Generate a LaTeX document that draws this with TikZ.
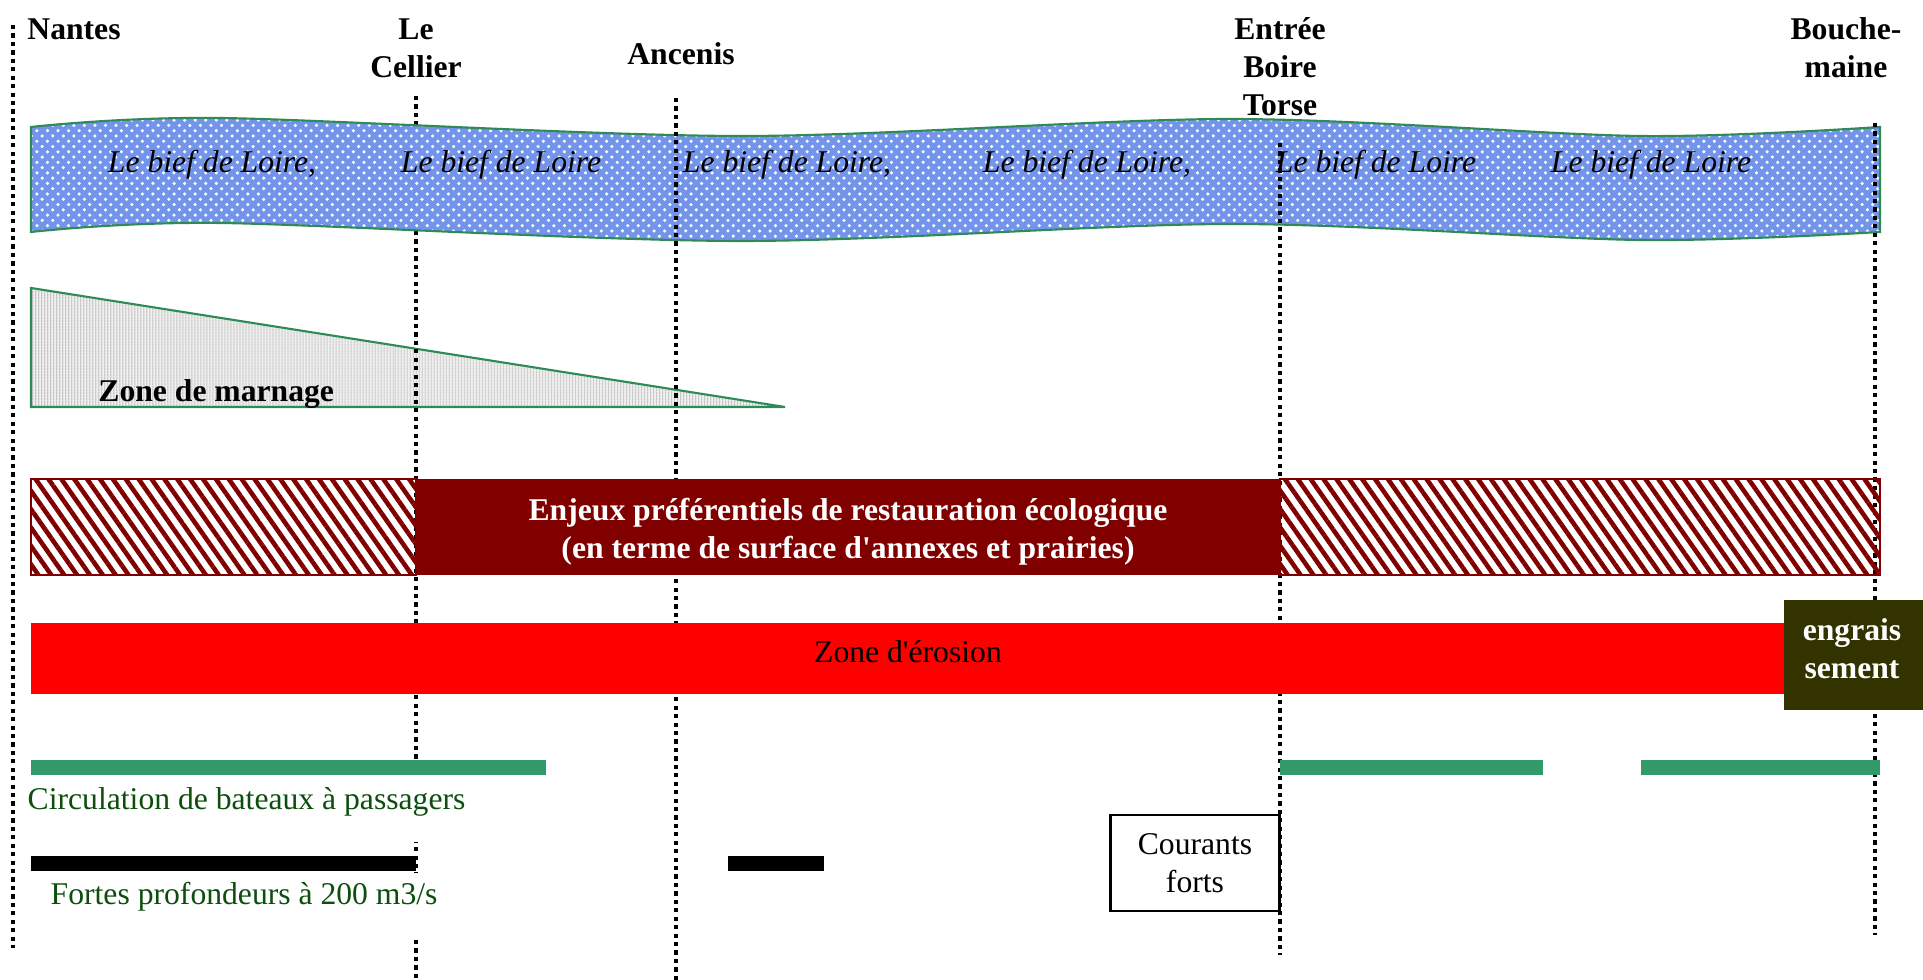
\documentclass[tikz,border=0pt]{standalone}
\usepackage{fontspec}
\setmainfont{Liberation Serif}[Ligatures=TeXOff]
\usetikzlibrary{patterns}
\usetikzlibrary{patterns.meta}

\definecolor{bandblue}{RGB}{115,148,235}
\definecolor{edgegreen}{RGB}{46,139,87}
\definecolor{barsgreen}{RGB}{52,153,104}
\definecolor{textgreen}{RGB}{12,78,12}
\definecolor{enjeuxred}{RGB}{128,0,0}
\definecolor{olivebox}{RGB}{51,51,0}

\begin{document}
\begin{tikzpicture}[x=0.01cm, y=-0.01cm, font=\fontsize{9}{10.8}\selectfont]
                \tikzstyle{site} = [font=\fontsize{9}{10.8}\selectfont\bfseries, align=center]
                \tikzstyle{bief} = [font=\fontsize{9}{10.8}\selectfont\itshape]
                \tikzstyle{limit} = [line width=1pt, dash pattern=on 1.2pt off 1.2pt]
                \tikzstyle{hatch} = [draw=enjeuxred, pattern={Lines[angle=-55, distance=3pt, line width=1.3pt]}, pattern color=enjeuxred]
                \tikzstyle{legend} = [text=textgreen, fill=white, inner xsep=2pt, text height=0.2cm, text depth=0.2cm, anchor=base west]
                \useasboundingbox (0, 0) rectangle (1923, 980);
                \node[site, anchor=west] (nantes) at (15, 29) {Nantes};
                \node[site] (cellier) at (416, 48) {Le\\Cellier};
                \node[site] (ancenis) at (681, 54) {Ancenis};
                \node[site] (boire) at (1280, 67) {Entrée\\Boire\\Torse};
                \node[site] (bouche) at (1846, 48) {Bouche-\\maine};
                \draw[edgegreen, line width=0.6pt, preaction={fill=gray!12}, pattern={Lines[angle=90, distance=0.9pt, line width=0.35pt]}, pattern color=gray!70] (31, 288) -- (785, 407) -- (31, 407) -- cycle;
                \node[site, anchor=base west] (marnage) at (86, 402) {Zone de marnage};
                \draw[limit] (416, 96) -- (416, 980);
                \draw[edgegreen, line width=0.6pt, preaction={fill=bandblue}, pattern=crosshatch dots, pattern color=white]
                    plot[smooth] coordinates {(31, 127) (220, 118) (740, 136) (1230, 119) (1640, 136) (1880, 127)}
                    -- plot[smooth] coordinates {(1880, 232) (1640, 240) (1230, 224) (740, 241) (220, 223) (31, 232)} -- cycle;
                \node[bief] (bief1) at (212, 165) {Le bief de Loire,};
                \node[bief] (bief2) at (501, 165) {Le bief de Loire};
                \node[bief] (bief3) at (787, 165) {Le bief de Loire,};
                \node[bief] (bief4) at (1087, 165) {Le bief de Loire,};
                \node[bief] (bief5) at (1376, 165) {Le bief de Loire};
                \node[bief] (bief6) at (1651, 165) {Le bief de Loire};
                \draw[limit] (13, 25) -- (13, 948);
                \draw[limit] (676, 98) -- (676, 980);
                \draw[limit] (1280, 143) -- (1280, 955);
                \draw[limit] (1875, 123) -- (1875, 935);
                \draw[hatch] (31, 479) rectangle (416, 575);
                \draw[hatch] (1280, 479) rectangle (1880, 575);
                \fill[enjeuxred] (416, 479) rectangle (1280, 575);
                \node[site, text=white] (enjeux) at (848, 532) {Enjeux préférentiels de restauration écologique\\(en terme de surface d'annexes et prairies)};
                \fill[red] (31, 623) rectangle (1785, 694);
                \node (erosion) at (908, 652) {Zone d'érosion};
                \fill[olivebox] (1784, 600) rectangle (1923, 710);
                \node[site, text=white] (engrais) at (1852, 649) {engrais\\sement};
                \node[legend] (circulation) at (20, 810) {Circulation de bateaux à passagers};
                \node[legend] (profondeurs) at (43, 905) {Fortes profondeurs à 200 m3/s};
                \fill[barsgreen] (31, 760) rectangle (546, 775);
                \fill[barsgreen] (1280, 760) rectangle (1543, 775);
                \fill[barsgreen] (1641, 760) rectangle (1880, 775);
                \fill[black] (31, 856) rectangle (416, 871);
                \fill[black] (728, 856) rectangle (824, 871);
                \node[draw, line width=0.7pt, fill=white, align=center, minimum width=1.69cm, minimum height=0.96cm, inner sep=0pt] (courants) at (1195, 863) {Courants\\forts};
            \end{tikzpicture}
\end{document}
